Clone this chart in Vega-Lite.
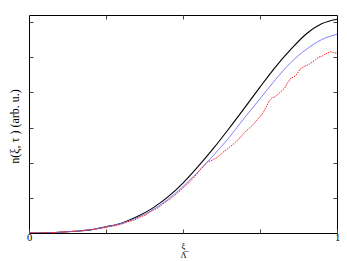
{
  "$schema": "https://vega.github.io/schema/vega-lite/v6.json",
  "width": 308,
  "height": 218,
  "autosize": {"type": "none"},
  "padding": {"left": 29, "top": 15, "right": 10, "bottom": 28},
  "background": "white",
  "config": {
    "view": {"stroke": "#000", "strokeWidth": 1},
    "axis": {"grid": false, "domain": false, "labelFont": "Liberation Serif", "titleFont": "Liberation Serif", "labelColor": "#000", "titleColor": "#000", "tickColor": "#444", "titleFontWeight": "normal"}
  },
  "datasets": {
    "k": [
      {"x": 0, "y": 0}, {"x": 0.05, "y": 0.003}, {"x": 0.1, "y": 0.02}, {"x": 0.15, "y": 0.05}, {"x": 0.2, "y": 0.09},
      {"x": 0.25, "y": 0.18}, {"x": 0.3, "y": 0.28}, {"x": 0.35, "y": 0.46}, {"x": 0.4, "y": 0.7}, {"x": 0.45, "y": 1.02},
      {"x": 0.5, "y": 1.42}, {"x": 0.55, "y": 1.9}, {"x": 0.6, "y": 2.42}, {"x": 0.65, "y": 2.98}, {"x": 0.7, "y": 3.56},
      {"x": 0.75, "y": 4.15}, {"x": 0.8, "y": 4.72}, {"x": 0.85, "y": 5.22}, {"x": 0.9, "y": 5.66}, {"x": 0.95, "y": 5.95},
      {"x": 1.0, "y": 6.08}
    ],
    "b": [
      {"x": 0, "y": 0}, {"x": 0.05, "y": 0.003}, {"x": 0.1, "y": 0.02}, {"x": 0.15, "y": 0.05}, {"x": 0.2, "y": 0.09},
      {"x": 0.25, "y": 0.17}, {"x": 0.3, "y": 0.27}, {"x": 0.35, "y": 0.43}, {"x": 0.4, "y": 0.65}, {"x": 0.45, "y": 0.95},
      {"x": 0.5, "y": 1.32}, {"x": 0.55, "y": 1.75}, {"x": 0.6, "y": 2.22}, {"x": 0.65, "y": 2.72}, {"x": 0.7, "y": 3.28},
      {"x": 0.75, "y": 3.82}, {"x": 0.8, "y": 4.36}, {"x": 0.85, "y": 4.85}, {"x": 0.9, "y": 5.22}, {"x": 0.95, "y": 5.5},
      {"x": 1.0, "y": 5.65}
    ],
    "r": [
      {"x": 0, "y": 0}, {"x": 0.02, "y": 0}, {"x": 0.04, "y": 0}, {"x": 0.06, "y": 0.01}, {"x": 0.08, "y": 0.01},
      {"x": 0.1, "y": 0.03}, {"x": 0.12, "y": 0.03}, {"x": 0.14, "y": 0.05}, {"x": 0.16, "y": 0.05}, {"x": 0.18, "y": 0.08},
      {"x": 0.2, "y": 0.09}, {"x": 0.22, "y": 0.12}, {"x": 0.24, "y": 0.14}, {"x": 0.26, "y": 0.18}, {"x": 0.28, "y": 0.21},
      {"x": 0.3, "y": 0.25}, {"x": 0.32, "y": 0.32}, {"x": 0.34, "y": 0.36}, {"x": 0.36, "y": 0.45}, {"x": 0.38, "y": 0.52},
      {"x": 0.4, "y": 0.64}, {"x": 0.42, "y": 0.72}, {"x": 0.44, "y": 0.86}, {"x": 0.46, "y": 0.98}, {"x": 0.48, "y": 1.12},
      {"x": 0.5, "y": 1.28}, {"x": 0.52, "y": 1.44}, {"x": 0.54, "y": 1.62}, {"x": 0.55, "y": 1.74}, {"x": 0.56, "y": 1.84},
      {"x": 0.57, "y": 1.94}, {"x": 0.58, "y": 2.02}, {"x": 0.59, "y": 2.05}, {"x": 0.6, "y": 2.1}, {"x": 0.61, "y": 2.14},
      {"x": 0.62, "y": 2.22}, {"x": 0.63, "y": 2.3}, {"x": 0.64, "y": 2.36}, {"x": 0.65, "y": 2.44}, {"x": 0.66, "y": 2.5},
      {"x": 0.67, "y": 2.58}, {"x": 0.68, "y": 2.66}, {"x": 0.69, "y": 2.76}, {"x": 0.7, "y": 2.86}, {"x": 0.71, "y": 2.94},
      {"x": 0.72, "y": 3.02}, {"x": 0.73, "y": 3.1}, {"x": 0.74, "y": 3.22}, {"x": 0.75, "y": 3.31}, {"x": 0.76, "y": 3.42},
      {"x": 0.77, "y": 3.58}, {"x": 0.78, "y": 3.76}, {"x": 0.79, "y": 3.84}, {"x": 0.8, "y": 3.88}, {"x": 0.81, "y": 3.96},
      {"x": 0.82, "y": 4.04}, {"x": 0.83, "y": 4.12}, {"x": 0.84, "y": 4.28}, {"x": 0.85, "y": 4.4}, {"x": 0.86, "y": 4.44},
      {"x": 0.87, "y": 4.52}, {"x": 0.88, "y": 4.66}, {"x": 0.89, "y": 4.72}, {"x": 0.9, "y": 4.76}, {"x": 0.91, "y": 4.8},
      {"x": 0.92, "y": 4.86}, {"x": 0.93, "y": 4.93}, {"x": 0.94, "y": 5.0}, {"x": 0.95, "y": 5.02}, {"x": 0.96, "y": 5.08},
      {"x": 0.97, "y": 5.12}, {"x": 0.98, "y": 5.16}, {"x": 0.99, "y": 5.12}, {"x": 1.0, "y": 5.12}
    ]
  },
  "layer": [
    {
      "data": {"name": "k"},
      "mark": {"type": "line", "color": "#000000", "strokeWidth": 1.1, "interpolate": "monotone", "clip": true},
      "encoding": {
        "x": {"field": "x", "type": "quantitative", "scale": {"domain": [0, 1], "nice": false},
          "axis": {"orient": "bottom", "values": [0, 0.25, 0.5, 0.75, 1], "format": "~g", "labelExpr": "datum.value == 0 || datum.value == 1 ? datum.label : ''", "labelFlush": false, "labelFontSize": 10.5, "labelPadding": 3, "tickSize": -4,
            "title": ["ξ", "Λ̅"], "titleFontSize": 8.5, "titleLineHeight": 9, "titleBaseline": "top", "titleY": 8, "titleX": 154}},
        "y": {"field": "y", "type": "quantitative", "scale": {"domain": [0, 6.2], "nice": false, "zero": true},
          "axis": {"orient": "left", "values": [1, 2, 3, 4, 5, 6], "labels": false, "tickSize": -4,
            "title": "n(ξ, τ ) (arb.  u.)", "titleFontSize": 12, "titleAngle": -90, "titleAlign": "center", "titleBaseline": "middle", "titleX": -15, "titleY": 111}}
      }
    },
    {
      "data": {"name": "b"},
      "mark": {"type": "line", "color": "#7f7fff", "strokeWidth": 1, "interpolate": "monotone", "clip": true},
      "encoding": {
        "x": {"field": "x", "type": "quantitative", "scale": {"domain": [0, 1], "nice": false},
          "axis": {"orient": "top", "values": [0.25, 0.5, 0.75], "labels": false, "tickSize": -4, "title": null}},
        "y": {"field": "y", "type": "quantitative", "scale": {"domain": [0, 6.2], "nice": false},
          "axis": {"orient": "right", "values": [1, 2, 3, 4, 5, 6], "labels": false, "tickSize": -4, "title": null}}
      }
    },
    {
      "data": {"name": "r"},
      "mark": {"type": "line", "color": "#ff1a1a", "strokeWidth": 1, "strokeDash": [1.5, 1], "clip": true},
      "encoding": {
        "x": {"field": "x", "type": "quantitative", "scale": {"domain": [0, 1], "nice": false}, "axis": null},
        "y": {"field": "y", "type": "quantitative", "scale": {"domain": [0, 6.2], "nice": false}, "axis": null}
      }
    }
  ],
  "resolve": {"axis": {"x": "independent", "y": "independent"}}
}
